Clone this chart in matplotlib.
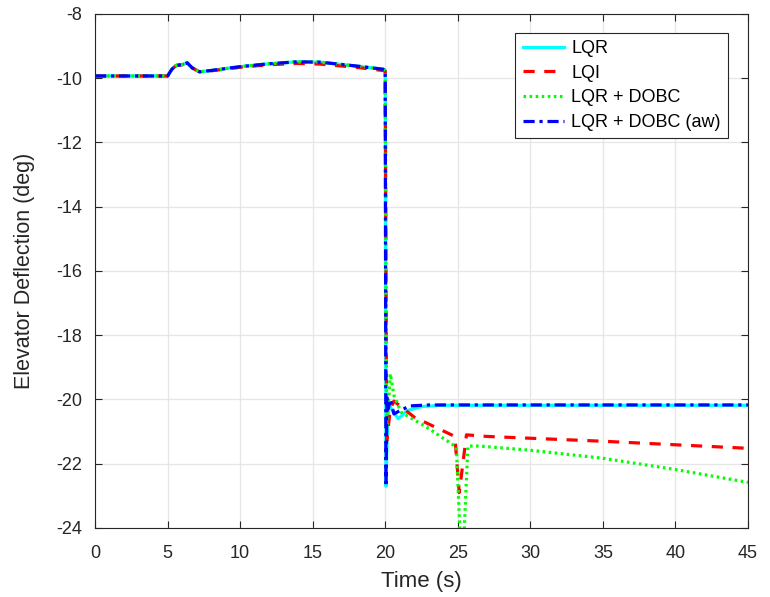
import numpy as np
import matplotlib
matplotlib.use("Agg")
import matplotlib.pyplot as plt

plt.rcParams['font.family'] = ['Liberation Sans', 'DejaVu Sans']

# Common pre-step segment (all controllers nearly identical)
t_pre = [0, 5.0, 5.3, 5.6, 6.0, 6.35, 6.7, 7.2, 8.0, 10.0, 12.0, 13.9, 15.5, 18.0, 19.85, 20.0]
v_pre = [-9.93, -9.93, -9.72, -9.6, -9.58, -9.52, -9.68, -9.8, -9.76, -9.64, -9.55, -9.49, -9.5, -9.62, -9.72, -9.75]
v_pre_lqi = [-9.93, -9.93, -9.72, -9.6, -9.58, -9.52, -9.68, -9.8, -9.77, -9.66, -9.58, -9.54, -9.56, -9.66, -9.76, -9.78]

# Post-step segments
t_lqr = [20.05, 20.2, 20.5, 20.9, 21.5, 22.5, 24, 30, 45]
v_lqr = [-22.7, -20.1, -20.35, -20.6, -20.35, -20.22, -20.18, -20.18, -20.18]

t_lqi = [20.1, 20.35, 20.6, 22.0, 24.8, 25.1, 25.6, 27.0, 35.0, 45.0]
v_lqi = [-21.3, -20.3, -20.05, -20.55, -21.15, -22.9, -21.1, -21.15, -21.3, -21.52]

t_dobc = [20.1, 20.35, 20.6, 21.1, 22.85, 24.9, 25.28, 25.45, 25.7, 26.5, 30.0, 35.0, 40.0, 45.0]
v_dobc = [-21.0, -19.2, -19.87, -20.4, -20.86, -21.48, -25.5, -24.0, -21.45, -21.45, -21.58, -21.83, -22.18, -22.58]

t_aw = [20.05, 20.12, 20.2, 20.35, 20.6, 21.0, 21.7, 23.0, 45.0]
v_aw = [-22.7, -19.9, -20.3, -20.0, -20.45, -20.35, -20.2, -20.17, -20.17]

labels = ['LQR', 'LQI', 'LQR + DOBC', 'LQR + DOBC (aw)']
xticks = np.arange(0, 46, 5)
yticks = np.arange(-24, -7, 2)

fig = plt.figure(figsize=(7.7, 5.97), dpi=100)
ax = fig.add_axes([0.1234, 0.1156, 0.848, 0.861])

ax.plot(t_pre + t_lqr, v_pre + v_lqr, color='#00ffff', lw=2.3, ls='-', label=labels[0])
ax.plot(t_pre + t_lqi, v_pre_lqi + v_lqi, color='#ff0000', lw=2.3, ls=(0, (3.5, 3.0)), label=labels[1])
ax.plot(t_pre + t_dobc, v_pre + v_dobc, color='#00ff00', lw=2.3, ls=(0, (0.8, 1.1)), label=labels[2])
ax.plot(t_pre + t_aw, v_pre + v_aw, color='#0000ff', lw=2.3, ls=(0, (3.5, 1.5, 1.0, 1.5)), label=labels[3])

ax.set_xlim(0, 45)
ax.set_ylim(-24, -8)
ax.set_xticks(xticks)
ax.set_yticks(yticks)
ax.set_xticklabels([str(v) for v in xticks])
ax.set_yticklabels([str(v) for v in yticks])
ax.grid(True, color='#e6e6e6', lw=0.9)
ax.set_axisbelow(True)
ax.tick_params(direction='in', length=5, width=0.8, labelsize=13, colors='#262626',
               top=True, right=True)
ax.tick_params(axis='x', pad=12)
ax.tick_params(axis='y', pad=9)
for s in ax.spines.values():
    s.set_color('#262626')
    s.set_linewidth(0.8)
ax.set_xlabel('Time (s)', fontsize=16, color='#262626', labelpad=7)
ax.set_ylabel('Elevator Deflection (deg)', fontsize=15.5, color='#262626', labelpad=15.5)

leg = ax.legend(loc='upper right', bbox_to_anchor=(0.9694, 0.963), fontsize=13,
                frameon=True, fancybox=False, edgecolor='#262626', framealpha=1,
                handlelength=2.3, handletextpad=0.4, borderpad=0.4, labelspacing=0.42,
                borderaxespad=0)
leg.get_frame().set_linewidth(0.8)

fig.savefig('out.png', dpi=100)
